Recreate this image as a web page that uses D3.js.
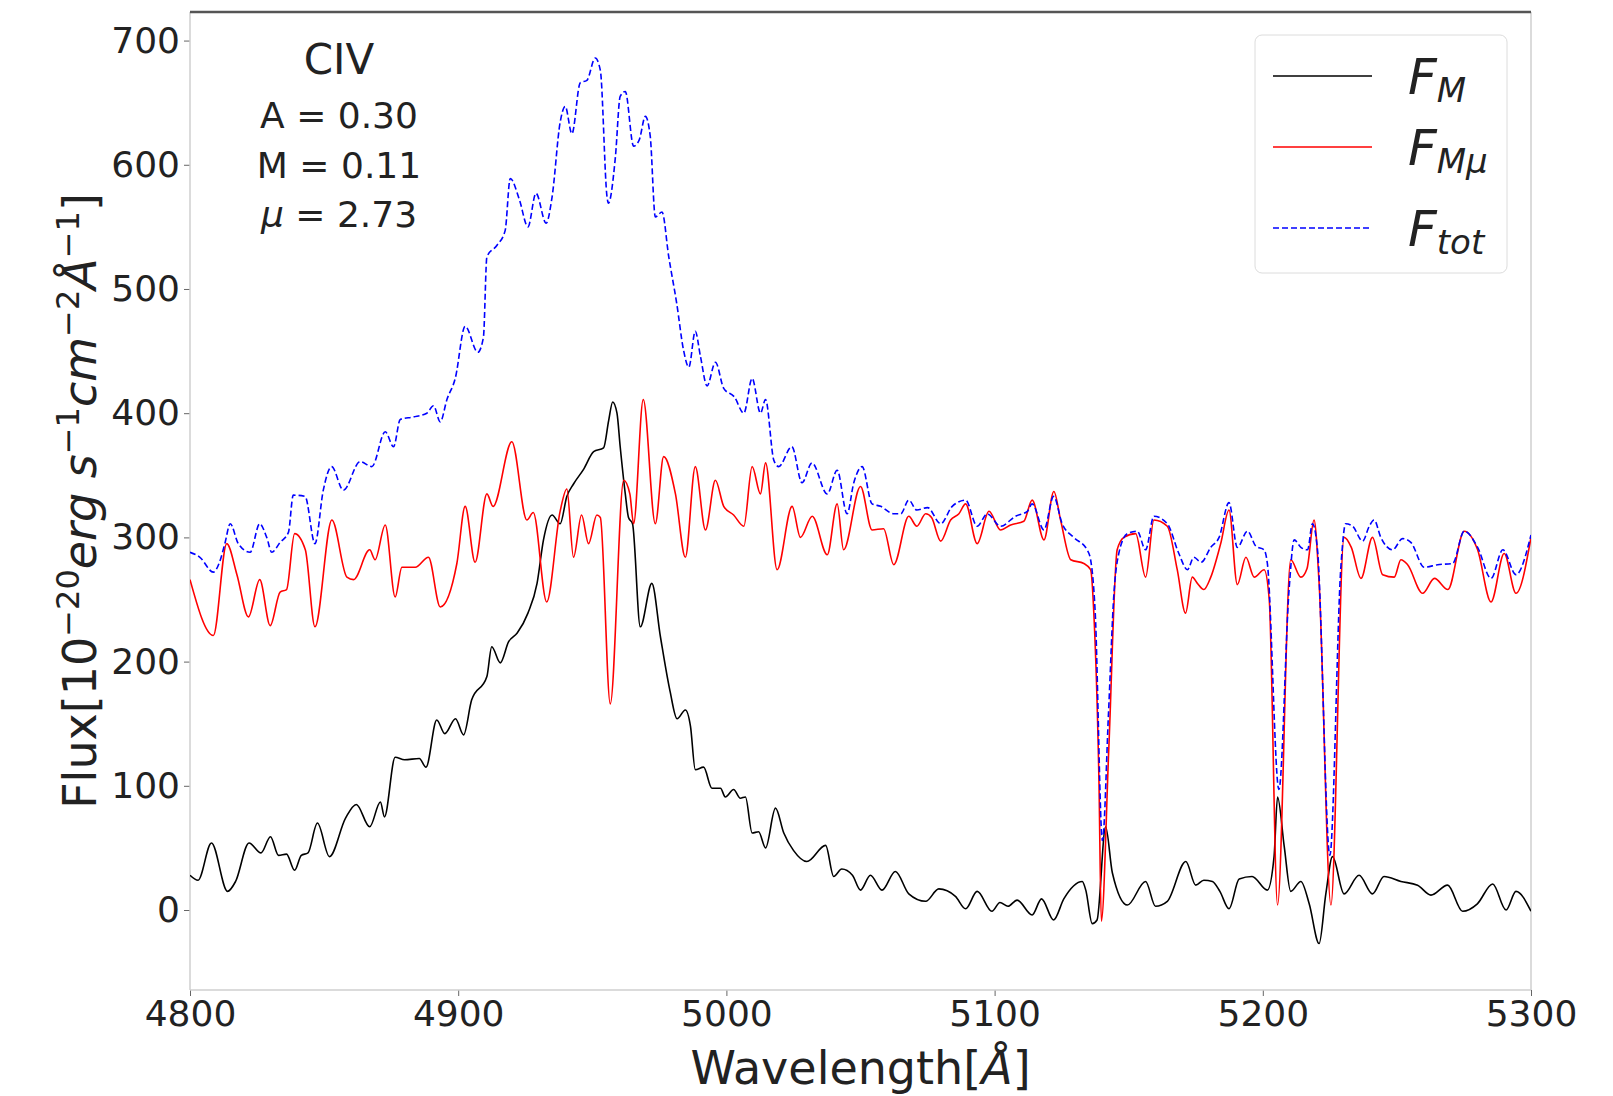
<!DOCTYPE html>
<meta charset="utf-8">

<!-- Load d3.js -->
<script src="https://d3js.org/d3.v7.min.js"></script>

<style>
  body { margin: 0; background: #fff; }
  text { font-family: "DejaVu Sans", sans-serif; fill: #222; }
</style>

<!-- Create a div where the graph will take place -->
<div id="my_dataviz"></div>

<script>

// F_M (black)
var wlM = [4800, 4803, 4808, 4814, 4817, 4822, 4826.5, 4830, 4833, 4836,
  4839, 4841.5, 4844, 4847.5, 4852, 4858, 4862, 4867, 4871, 4872.5,
  4876.5, 4880, 4885.5, 4888, 4892, 4895, 4899, 4902, 4905, 4910.7,
  4912.5, 4915.7, 4918.8, 4922, 4926, 4929.4, 4931.8, 4935, 4938, 4940.5,
  4943, 4946.8, 4950.5, 4954.2, 4956.1, 4957.6, 4959.2, 4960.4, 4962.3, 4963.5,
  4965, 4967.9, 4972.2, 4975.4, 4979, 4981.6, 4984.7, 4986.6, 4988.4, 4991.5,
  4994.6, 4997.8, 4999.6, 5002.7, 5005.2, 5007.1, 5009.6, 5012, 5014.6, 5018.3,
  5021.4, 5025, 5030, 5037, 5040, 5043, 5047, 5050, 5053.7, 5058,
  5063, 5068, 5074.3, 5079.2, 5085.4, 5089.2, 5093.5, 5099, 5102, 5105,
  5108.4, 5114, 5117.5, 5122, 5125.8, 5132.7, 5134, 5136.4, 5138.2, 5141.4,
  5143.9, 5149.5, 5156.3, 5160, 5164.4, 5171.3, 5175, 5178, 5181.2, 5184,
  5187.4, 5191.2, 5196, 5201.7, 5204.2, 5205.5, 5208, 5210.4, 5214.2, 5217.3,
  5221, 5223.5, 5226, 5230.3, 5235.9, 5240.9, 5245.2, 5251.5, 5257.7, 5262.7,
  5268.9, 5274.5, 5280, 5285.7, 5290.7, 5294.4, 5300];
var fluxM = [28, 24, 54, 15, 23, 54, 46, 59, 44, 45,
  32, 44, 46, 70, 43, 74, 85, 67, 87, 75,
  123, 121, 122, 115, 153, 142, 154, 141, 169, 188,
  212, 199, 216, 223, 239, 263, 298, 318, 311, 333,
  343, 355, 369, 372, 394, 409, 400, 373, 335, 316,
  311, 228, 263, 220, 176, 154, 161, 148, 113, 115,
  98, 98, 91, 97, 90, 91, 62, 63, 50, 82,
  62, 48, 39, 52, 27, 33, 28, 16, 28, 16,
  31, 13, 7, 17, 11, 1, 15, -1, 6, 3,
  8, -4, 9, -8, 9, 23, 16, -11, -8, 67,
  30, 4, 23, 3, 7, 39, 20, 24, 23, 15,
  1, 25, 27, 16, 43, 91, 51, 15, 23, 5,
  -27, 13, 43, 13, 28, 13, 27, 23, 20, 12,
  20, -1, 5, 21, 0, 15, -1];

// F_Mmu (red)
var wlMmu = [4800, 4808.7, 4813.7, 4817.5, 4821.8, 4826, 4829.9, 4833.6, 4836, 4839,
  4843, 4846.6, 4852.9, 4858.5, 4861, 4867, 4869, 4872.8, 4876.5, 4879,
  4884, 4888.9, 4893.3, 4899.5, 4902.6, 4906.3, 4910.7, 4913, 4920, 4925.6,
  4928, 4933, 4938, 4940.5, 4943, 4946, 4948.6, 4951.7, 4953, 4956.7,
  4961.7, 4964, 4965.4, 4969, 4973.5, 4976.6, 4981, 4984.7, 4988.4, 4992.2,
  4995.9, 4999, 5002.7, 5006.5, 5009.6, 5012.7, 5014.6, 5018.9, 5024.5, 5027.6,
  5032, 5037.6, 5041.3, 5043.7, 5050, 5054.3, 5058.6, 5062.4, 5068, 5071,
  5074.3, 5076.5, 5079.9, 5083.6, 5086.7, 5089.2, 5093.5, 5097.9, 5102.2, 5106,
  5110.9, 5114, 5118.4, 5122.1, 5124.6, 5128.4, 5133.3, 5135.8, 5137, 5138.9,
  5139.8, 5142.6, 5145.7, 5148.2, 5152.6, 5156.3, 5159.4, 5164.4, 5168.1, 5171.2,
  5173.7, 5175.6, 5178, 5180.6, 5184.3, 5187.4, 5190.5, 5193.7, 5196.8, 5200.5,
  5202.4, 5205.5, 5210.4, 5214.2, 5216.5, 5219.1, 5221, 5225.4, 5230.3, 5233,
  5236.6, 5240.9, 5244.7, 5249, 5251.5, 5254, 5259.6, 5264, 5269, 5275.1,
  5280.1, 5285.1, 5290, 5294.4, 5300];
var fluxMmu = [266, 221, 295, 270, 236, 266, 229, 256, 258, 303,
  290, 228, 314, 268, 266, 290, 282, 310, 252, 276,
  276, 284, 244, 279, 325, 280, 335, 325, 377, 314,
  320, 248, 321, 339, 284, 318, 295, 318, 316, 166,
  346, 335, 311, 411, 311, 365, 335, 284, 357, 306,
  346, 325, 318, 309, 357, 335, 360, 274, 325, 300,
  317, 286, 327, 290, 341, 306, 307, 278, 317, 309,
  319, 316, 297, 314, 319, 327, 295, 321, 306, 310,
  313, 330, 298, 337, 314, 282, 279, 274, 239, 105,
  -9, 131, 290, 300, 303, 268, 314, 309, 274, 239,
  268, 263, 258, 268, 295, 322, 262, 284, 268, 274,
  250, 4, 282, 268, 275, 314, 263, 4, 300, 292,
  267, 300, 270, 268, 282, 278, 255, 267, 258, 305,
  290, 248, 287, 255, 300];

// F_tot (blue, dashed)
var wlTot = [4800, 4803.7, 4808.7, 4811, 4813, 4815, 4818, 4822.4, 4826, 4828.6,
  4830.5, 4833.6, 4836.7, 4838.5, 4842.9, 4846.6, 4849.7, 4852.8, 4857.2, 4863.4,
  4867.8, 4872.8, 4875.9, 4878.4, 4883.3, 4888.3, 4890.8, 4893.3, 4895.8, 4898.9,
  4902.6, 4907.3, 4909.4, 4910.7, 4914.4, 4917.5, 4919.4, 4922.8, 4926, 4929,
  4932.8, 4935, 4938, 4939.9, 4942.4, 4945.5, 4948, 4951.1, 4953, 4955.5,
  4956, 4958.6, 4960.4, 4962.3, 4965.4, 4967.5, 4969.8, 4971.6, 4973.5, 4976,
  4978.5, 4981.5, 4984, 4986, 4988.4, 4990.3, 4992.8, 4995.9, 4999, 5003,
  5006.5, 5009.6, 5012.7, 5014.6, 5017.7, 5019.5, 5024.4, 5028.2, 5031.9, 5037.6,
  5041.3, 5045, 5047.5, 5050.6, 5054.3, 5057.5, 5062.4, 5065, 5068, 5071,
  5075, 5079.9, 5084.2, 5089.2, 5093.5, 5097.3, 5102.2, 5107.8, 5112.2, 5114,
  5118.4, 5122, 5125.2, 5129.5, 5134.5, 5135.8, 5137.5, 5140.2, 5142.5, 5144.5,
  5146.3, 5149.5, 5153.2, 5156.3, 5159.4, 5164.4, 5168.7, 5171.9, 5174.3, 5177,
  5180.6, 5183.7, 5187.4, 5190.5, 5194.3, 5197.4, 5200.5, 5201.7, 5206, 5209.8,
  5211.7, 5214.2, 5216.7, 5218.5, 5220.4, 5225, 5229.1, 5230.9, 5233.5, 5237.2,
  5239.7, 5241.5, 5244, 5248.4, 5252.1, 5255.2, 5260.2, 5265.2, 5270.8, 5275.1,
  5280.1, 5285.1, 5289.5, 5294.4, 5300];
var fluxTot = [288, 284, 272, 280, 295, 311, 295, 288, 311, 300,
  288, 296, 304, 334, 333, 295, 338, 357, 338, 361,
  357, 385, 373, 395, 397, 400, 406, 393, 411, 428,
  470, 449, 461, 526, 535, 547, 589, 572, 550, 577,
  553, 574, 634, 647, 625, 666, 668, 686, 676, 574,
  569, 606, 655, 659, 615, 620, 639, 623, 558, 562,
  526, 488, 451, 437, 466, 446, 422, 441, 420, 413,
  400, 428, 400, 411, 362, 357, 373, 344, 360, 335,
  354, 319, 344, 357, 327, 325, 319, 319, 330, 322,
  324, 311, 325, 330, 309, 319, 309, 317, 321, 327,
  306, 333, 311, 300, 290, 282, 240, 56, 160, 255,
  287, 303, 305, 290, 317, 311, 287, 274, 284, 280,
  292, 300, 328, 292, 305, 293, 290, 279, 97, 258,
  298, 292, 290, 311, 290, 44, 276, 311, 309, 297,
  309, 314, 300, 290, 299, 296, 276, 278, 279, 305,
  292, 267, 290, 270, 302];

// Ticks and labels
var xTicks = [4800, 4900, 5000, 5100, 5200, 5300];
var yTicks = [0, 100, 200, 300, 400, 500, 600, 700];
var seriesSubs = ["M", "Mμ", "tot"];
var seriesColors = ["#000000", "#ff0000", "#0000ff"];
var annotation = ["A = 0.30", "M = 0.11", "= 2.73"];

// Margins
var margin = { top: 12, right: 82, bottom: 106, left: 190 },
    width = 1613 - margin.left - margin.right,
    height = 1096 - margin.top - margin.bottom;

// SVG
var svg = d3.select('#my_dataviz')
  .append('svg')
    .attr("width", width + margin.left + margin.right)
    .attr("height", height + margin.top + margin.bottom)
  .append("g")
    .attr("transform", "translate(" + margin.left + "," + margin.top + ")");

// Scales
var x = d3.scaleLinear()
    .domain([4800, 5300])
    .range([0, width]);
var y = d3.scaleLinear()
    .domain([-64.4, 723])
    .range([height, 0]);

// Axes
var xAxis = svg.append("g")
    .attr("transform", "translate(0," + height + ")")
    .call(d3.axisBottom(x).tickValues(xTicks).tickFormat(d3.format("d")).tickSize(6).tickPadding(4));
xAxis.select(".domain").remove();

var yAxis = svg.append("g")
    .call(d3.axisLeft(y).tickValues(yTicks).tickFormat(d3.format("d")).tickSize(6).tickPadding(4));
yAxis.select(".domain").remove();

svg.selectAll(".tick line").attr("stroke", "#666").attr("stroke-width", 1);
svg.selectAll(".tick text")
    .style("font-family", '"DejaVu Sans", sans-serif')
    .style("font-size", "36px")
    .attr("fill", "#222");

// Spines
svg.append("line").attr("x1", 0).attr("x2", 0).attr("y1", 0).attr("y2", height)
    .attr("stroke", "#cfcfcf").attr("stroke-width", 1.5);
svg.append("line").attr("x1", width).attr("x2", width).attr("y1", 0).attr("y2", height)
    .attr("stroke", "#cfcfcf").attr("stroke-width", 1.5);
svg.append("line").attr("x1", 0).attr("x2", width).attr("y1", height).attr("y2", height)
    .attr("stroke", "#cfcfcf").attr("stroke-width", 1.5);
svg.append("line").attr("x1", 0).attr("x2", width).attr("y1", 0).attr("y2", 0)
    .attr("stroke", "#555").attr("stroke-width", 2.5);

// Clip
svg.append("clipPath").attr("id", "clip")
  .append("rect").attr("width", width).attr("height", height);

// Lines
var line = d3.line()
    .x(function(d) { return x(d[0]); })
    .y(function(d) { return y(d[1]); })
    .curve(d3.curveMonotoneX);

var series = [d3.zip(wlM, fluxM), d3.zip(wlMmu, fluxMmu), d3.zip(wlTot, fluxTot)];

svg.append("g")
    .attr("clip-path", "url(#clip)")
  .selectAll("path")
  .data(series)
  .enter()
  .append("path")
    .attr("d", line)
    .attr("fill", "none")
    .attr("stroke", function(d, i) { return seriesColors[i]; })
    .attr("stroke-width", 1.6)
    .attr("stroke-dasharray", function(d, i) { return i == 2 ? "6,3" : null; });

// Annotation
svg.append("text")
    .attr("x", 339 - margin.left)
    .attr("y", 74 - margin.top)
    .attr("text-anchor", "middle")
    .style("font-size", "42px")
    .text("CIV");

svg.selectAll(".annot")
  .data(annotation)
  .enter()
  .append("text")
    .attr("class", "annot")
    .attr("x", 339 - margin.left)
    .attr("y", function(d, i) { return 128 + i * 49.5 - margin.top; })
    .attr("text-anchor", "middle")
    .style("font-size", "36px")
    .each(function(d, i) {
      var t = d3.select(this);
      if (i == 2) t.append("tspan").style("font-style", "italic").text("μ ");
      t.append("tspan").text(d);
    });

// X axis label
var xl = svg.append("text")
    .attr("text-anchor", "middle")
    .attr("x", width / 2)
    .attr("y", 1084 - margin.top)
    .style("font-size", "46px");
xl.append("tspan").text("Wavelength[");
xl.append("tspan").style("font-style", "italic").text("Å");
xl.append("tspan").text("]");

// Y axis label
var yl = svg.append("text")
    .attr("text-anchor", "middle")
    .attr("transform", "translate(" + (96 - margin.left) + "," + (height / 2) + ") rotate(-90)")
    .style("font-size", "46px");
yl.append("tspan").text("Flux[10");
yl.append("tspan").attr("dy", "-17").style("font-size", "32px").text("−20");
yl.append("tspan").attr("dy", "17").style("font-style", "italic").text("erg s");
yl.append("tspan").attr("dy", "-17").style("font-size", "32px").text("−1");
yl.append("tspan").attr("dy", "17").style("font-style", "italic").text("cm");
yl.append("tspan").attr("dy", "-17").style("font-size", "32px").text("−2");
yl.append("tspan").attr("dy", "17").style("font-style", "italic").text("Å");
yl.append("tspan").attr("dy", "-17").style("font-size", "32px").text("−1");
yl.append("tspan").attr("dy", "17").text("]");

// Legend
var legend = svg.append('g')
    .attr('class', 'legend')
    .attr('transform', 'translate(' + (1255 - margin.left) + ',' + (35 - margin.top) + ')');

legend.append('rect')
    .attr('width', 252)
    .attr('height', 238)
    .attr('rx', 7)
    .attr('fill', 'white')
    .attr('fill-opacity', 0.8)
    .attr('stroke', '#dcdcdc')
    .attr('stroke-width', 1);

var rowY = [41, 112, 193];

var legends = legend.selectAll('.entry')
    .data(seriesSubs)
    .enter()
    .append('g')
    .attr('class', 'entry')
    .attr('transform', function(d, i) { return 'translate(0,' + rowY[i] + ')'; });

legends.append('line')
    .attr('x1', 18)
    .attr('x2', 117)
    .attr('stroke', function(d, i) { return seriesColors[i]; })
    .attr('stroke-width', 1.6)
    .attr('stroke-dasharray', function(d, i) { return i == 2 ? "6,3" : null; });

legends.append('text')
    .attr('x', 153)
    .attr('y', 18)
    .style('font-size', '50px')
    .style('font-style', 'italic')
    .each(function(d) {
      var t = d3.select(this);
      t.append('tspan').text('F');
      t.append('tspan').attr('dy', 8).style('font-size', '34px').text(d);
    });

</script>
